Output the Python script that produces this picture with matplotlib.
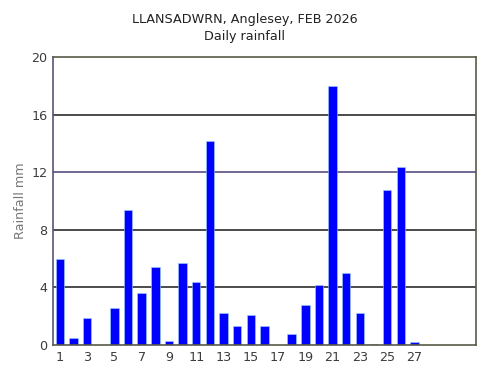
import numpy as np
import matplotlib
matplotlib.use("Agg")
import matplotlib.pyplot as plt

days = np.arange(1, 29)
rain = [6.0, 0.5, 1.85, 0.0, 2.6, 9.4, 3.6, 5.4, 0.3, 5.7,
        4.35, 14.2, 2.2, 1.3, 2.1, 1.3, 0.0, 0.8, 2.8, 4.2,
        18.0, 5.0, 2.2, 0.1, 10.8, 12.4, 0.2, 0.0]
xticks = np.arange(1, 29, 2)
yticks = [0, 4, 8, 12, 16, 20]

fig = plt.figure(figsize=(4.89, 3.76), dpi=100)
ax = fig.add_axes([0.1084, 0.0824, 0.8646, 0.7656])

for y in [4, 8, 16]:
    ax.axhline(y, color="#1a1a1a", lw=1.1, zorder=1)
ax.axhline(12, color="#4a3f7a", lw=1.1, zorder=1)

ax.bar(days, rain, width=0.62, color="#0000ff", edgecolor="#9fd0ff",
       linewidth=0.4, zorder=2)

ax.set_xlim(0.5, 31.5)
ax.set_ylim(0, 20)
ax.set_xticks(xticks)
ax.set_yticks(yticks)
ax.tick_params(length=0, labelsize=9.2, labelcolor="#3c3c3c", pad=4)

for s in ["top", "right", "bottom"]:
    ax.spines[s].set_color("#5a5a48")
ax.spines["left"].set_color("#55557a")
for s in ax.spines.values():
    s.set_linewidth(1.2)

ax.set_ylabel("Rainfall mm", fontsize=9.2, color="#777777", labelpad=3)

fig.text(0.5, 0.947, "LLANSADWRN, Anglesey, FEB 2026", ha="center", va="center",
         fontsize=9.2, color="#222222")
fig.text(0.5, 0.902, "Daily rainfall", ha="center", va="center",
         fontsize=9.2, color="#222222")

fig.savefig("out.png", dpi=100)
